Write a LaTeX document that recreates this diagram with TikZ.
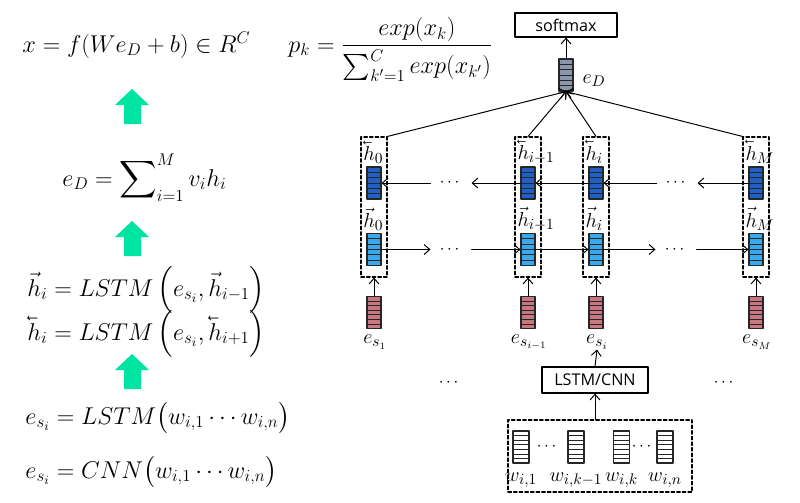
\documentclass[tikz,border=0pt]{standalone}
\usepackage{amsmath,amssymb}
\usepackage{fontspec}
\newfontfamily\boxfont{Open Sans}
\usetikzlibrary{calc,positioning,arrows.meta}
\definecolor{upgreen}{RGB}{0,228,163}
\definecolor{hdark}{RGB}{32,96,196}
\definecolor{hlight}{RGB}{58,168,238}
\definecolor{sred}{RGB}{200,118,128}
\definecolor{dgray}{RGB}{140,150,170}
\newcommand{\lvec}[1]{\reflectbox{$\vec{\reflectbox{$#1$}}$}}
\tikzset{
  cellbar/.style={draw=black!85,line width=0.8pt,minimum width=0.35cm,minimum height=0.8cm,inner sep=0pt,
    path picture={\foreach \k in {1,...,#1}{\draw[line width=0.5pt,black!85]
      ($(path picture bounding box.south west)!{\k/(#1+1)}!(path picture bounding box.north west)$) --
      ($(path picture bounding box.south east)!{\k/(#1+1)}!(path picture bounding box.north east)$);}}},
  colbox/.style={draw,dash pattern=on 2.5pt off 1.5pt,line width=0.8pt,minimum width=0.65cm,minimum height=3.5cm,inner sep=0pt},
  plainbox/.style={draw,line width=0.8pt,inner sep=0pt,font=\boxfont\fontsize{11.5}{13}\selectfont},
  dotsn/.style={minimum width=1cm,inner sep=0pt,font=\fontsize{13}{15}\selectfont},
  eqn/.style={anchor=base west,inner sep=0pt,font=\fontsize{18.5}{22}\selectfont},
  lab/.style={inner sep=0pt,font=\fontsize{15}{17}\selectfont}
}
\begin{document}
\begin{tikzpicture}[x=0.025cm,y=-0.025cm,line join=round,line cap=round,line width=0.7pt,
  >={Straight Barb[length=4pt,width=7pt]}]
\useasboundingbox (0,0) rectangle (800,502);
% equations
\node[eqn] (eqx) at (22,52) {$x=f(We_D+b)\in R^C$};
\node[eqn] (eqp) at (288,52) {$p_k=\dfrac{exp(x_k)}{\sum_{k'=1}^{C}exp(x_{k'})}$};
\node[eqn] (eqd) at (62,186) {$e_D=\displaystyle\sum\nolimits_{i=1}^{M}v_ih_i$};
\node[eqn] (eqf) at (27,296) {$\vec{h}_i=LSTM\left(e_{s_i},\vec{h}_{i-1}\right)$};
\node[eqn] (eqb) at (27,340) {$\lvec{h}_i=LSTM\left(e_{s_i},\lvec{h}_{i+1}\right)$};
\node[eqn] (eql) at (25,424) {$e_{s_i}=LSTM\big(w_{i,1}\cdots w_{i,n}\big)$};
\node[eqn] (eqc) at (25,478) {$e_{s_i}=CNN\big(w_{i,1}\cdots w_{i,n}\big)$};
\foreach \y in {124,256,389}{\fill[upgreen] (124,\y) -- (141,\y) -- (141,\y-19) -- (149,\y-19) -- (132,\y-35) -- (115,\y-19) -- (124,\y-19) -- cycle;}
% top
\node[plainbox,minimum width=2.55cm,minimum height=0.6cm] (soft) at (566,25) {softmax};
\node[cellbar=5,fill=dgray] (eD) at (566,75) {};
\node[lab,right=6pt of eD,yshift=-4pt] (eDl) {$e_D$};
\draw[->] (eD.north) -- (soft.south);
% columns
\foreach \n/\x/\h/\s in {0/374/0/s_1,p/528/i-1/s_{i-1},i/596/i/s_i,M/756/M/s_M}{
  \node[colbox] (c\n) at (\x,207) {};
  \node[cellbar=5,fill=hdark] (bb\n) at (\x,183) {};
  \node[cellbar=5,fill=hlight] (fb\n) at (\x,249.5) {};
  \node[cellbar=6,fill=sred] (rs\n) at (\x,312.5) {};
  \node[lab,anchor=west] (lb\n) at (\x-11,152) {$\lvec{h}_{\h}$};
  \node[lab,anchor=west] (lf\n) at (\x-11,219) {$\vec{h}_{\h}$};
  \node[lab] (le\n) at (\x+1,342) {$e_{\s}$};
  \draw[->] (rs\n.north) -- (c\n.south);
}
\draw[->] (c0.north east) -- (eD.south);
\draw[->] (cp.north) -- (eD.south);
\draw[->] (ci.north) -- (eD.south);
\draw[->] (cM.north west) -- (eD.south);
% backward and forward rows
\node[dotsn] (dbL) at (451,183) {$\cdots$};
\node[dotsn] (dbR) at (677,183) {$\cdots$};
\node[dotsn] (dfL) at (451,249.5) {$\cdots$};
\node[dotsn] (dfR) at (676,249.5) {$\cdots$};
\draw[->] (bbM.west) -- (dbR.east);
\draw[->] (dbR.west) -- (bbi.east);
\draw[->] (bbi.west) -- (bbp.east);
\draw[->] (bbp.west) -- (dbL.east);
\draw[->] (dbL.west) -- (bb0.east);
\draw[->] (fb0.east) -- (dfL.west);
\draw[->] (dfL.east) -- (fbp.west);
\draw[->] (fbp.east) -- (fbi.west);
\draw[->] (fbi.east) -- (dfR.west);
\draw[->] (dfR.east) -- (fbM.west);
% sentence encoder
\node[dotsn] (dsL) at (450,383) {$\cdots$};
\node[dotsn] (dsR) at (725,383) {$\cdots$};
\node[plainbox,minimum width=2.65cm,minimum height=0.65cm] (enc) at (595,380) {LSTM/CNN};
\draw[->] (enc.north) -- (lei.south);
\node[colbox,minimum width=4.6cm,minimum height=1.8cm] (wbox) at (600,456) {};
\draw[->] (wbox.north -| enc.south) -- (enc.south);
\foreach \n/\x/\w in {1/521/{i,1},2/576/{i,k-1},3/621.5/{i,k},4/665/{i,n}}{
  \node[cellbar=6,fill=white,minimum width=0.4cm] (w\n) at (\x,447) {};
  \node[lab] (wl\n) at (\x,480) {$w_{\w}$};
}
\node[dotsn,minimum width=0pt] (dw1) at (548,447) {$\cdots$};
\node[dotsn,minimum width=0pt] (dw2) at (643,447) {$\cdots$};
\end{tikzpicture}
\end{document}
